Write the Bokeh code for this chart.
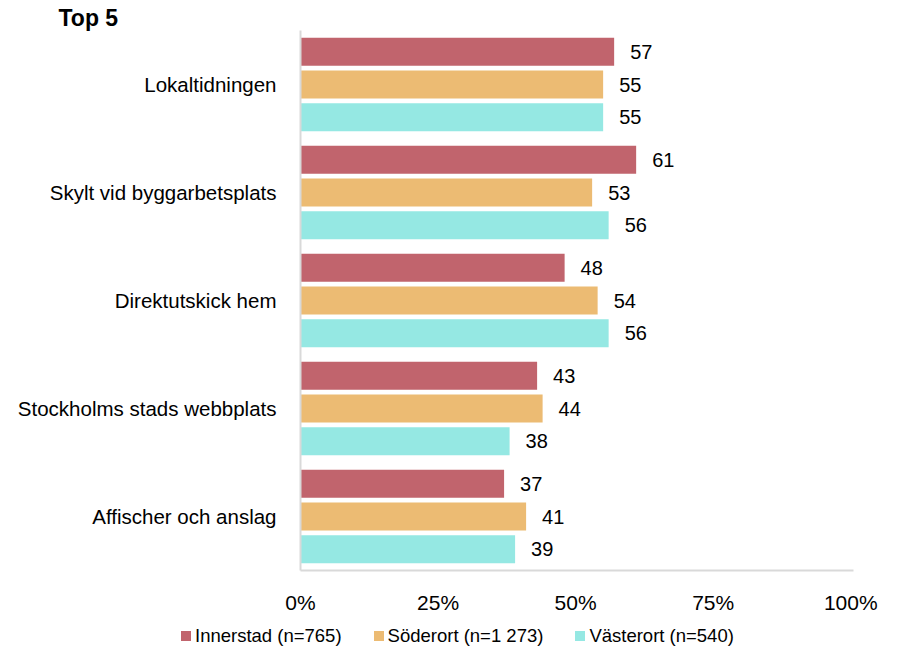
from bokeh.plotting import figure
from bokeh.layouts import column
from bokeh.models import (ColumnDataSource, FactorRange, Range1d, FixedTicker,
                          PrintfTickFormatter, Title, Div)
from bokeh.transform import dodge
from bokeh.core.properties import value
from bokeh.embed import file_html
from bokeh.resources import INLINE

categories = ["Lokaltidningen", "Skylt vid byggarbetsplats", "Direktutskick hem",
              "Stockholms stads webbplats", "Affischer och anslag"]
series_names = ["Innerstad (n=765)", "Söderort (n=1 273)", "Västerort (n=540)"]
innerstad = [57, 61, 48, 43, 37]
soderort = [55, 53, 54, 44, 41]
vasterort = [55, 56, 56, 38, 39]
x_ticks = [0, 25, 50, 75, 100]
title_text = "Top 5"

colors = ["#C1646D", "#ECBB73", "#95E8E3"]
FONT = "Liberation Sans"

src = ColumnDataSource(dict(
    cat=categories,
    innerstad=innerstad, soderort=soderort, vasterort=vasterort,
    innerstad_l=[str(v) for v in innerstad],
    soderort_l=[str(v) for v in soderort],
    vasterort_l=[str(v) for v in vasterort],
))

p = figure(width=890, height=622, output_backend="svg", toolbar_location=None,
           y_range=FactorRange(factors=list(reversed(categories))),
           x_range=Range1d(0, 100.5),
           min_border_left=300, min_border_right=37, min_border_top=30,
           min_border_bottom=52)
p.outline_line_color = None
p.xgrid.visible = False
p.ygrid.visible = False

offsets = [0.3025, 0.0, -0.3025]
cols = ["innerstad", "soderort", "vasterort"]
for col, off, c in zip(cols, offsets, colors):
    p.hbar(y=dodge("cat", off, range=p.y_range), right=col, left=0,
           height=0.26, source=src, fill_color=c, line_color=None)
    p.text(x=col, y=dodge("cat", off, range=p.y_range), text=col + "_l",
           source=src, x_offset=16, text_baseline="middle", text_align="left",
           text_font=value(FONT), text_font_size="20px", text_color="#000000")

# axes
p.xaxis.ticker = FixedTicker(ticks=x_ticks)
p.xaxis.formatter = PrintfTickFormatter(format="%d%%")
for ax in (p.xaxis[0], p.yaxis[0]):
    ax.axis_line_color = "#D9D9D9"
    ax.axis_line_width = 2
    ax.major_tick_line_color = None
    ax.minor_tick_line_color = None
    ax.major_label_text_font = FONT
    ax.major_label_text_color = "#000000"
p.xaxis.major_label_text_font_size = "21px"
p.yaxis.major_label_text_font_size = "20.5px"
p.xaxis.major_label_standoff = 14
p.yaxis.major_label_standoff = 18

p.title = Title(text=title_text, align="left", offset=-242, standoff=0,
                text_font=FONT, text_font_size="23px", text_font_style="bold",
                text_color="#000000")

# legend strip (HTML text) below the chart
item_html = "".join(
    f'<span style="display:inline-flex;align-items:center;margin-right:32px;">'
    f'<span style="display:inline-block;width:10px;height:10px;background:{c};'
    f'margin-right:4px;"></span>{name}</span>'
    for c, name in zip(colors, series_names)
)
legend_html = (
    f'<div style="display:flex;align-items:center;padding:8px 0 0 181px;margin:0;'
    f'line-height:20px;height:20px;font-family:\'{FONT}\';font-size:18.5px;'
    f'color:#000000;white-space:nowrap;">{item_html}</div>'
)
leg = Div(text=legend_html, width=890, height=30, margin=0)

open("out.html", "w").write(file_html(column(p, leg, spacing=0), INLINE))
